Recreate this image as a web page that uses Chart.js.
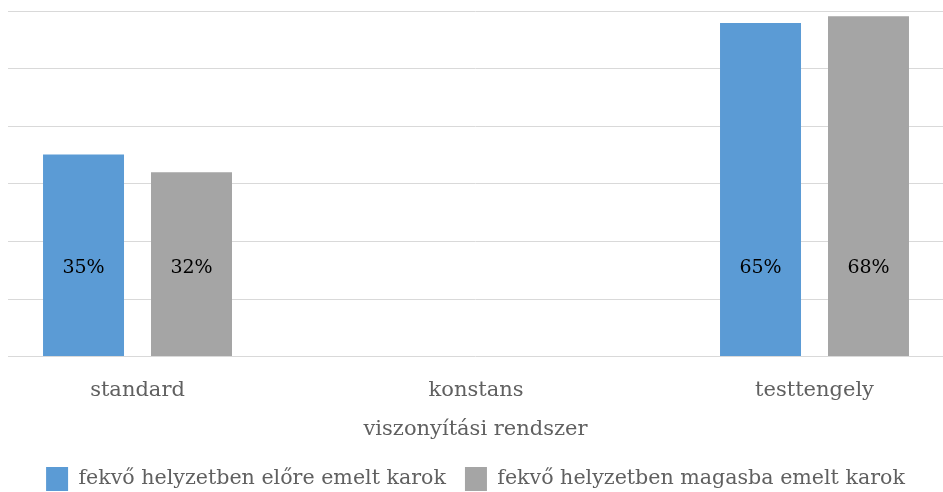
<!DOCTYPE html>
<html>
<head>
<meta charset="utf-8">
<script src="https://cdn.jsdelivr.net/npm/chart.js@4.4.1/dist/chart.umd.min.js"></script>
<style>
	html, body { margin: 0; padding: 0; background: #fff; overflow: hidden; }
	.wrapper { width: 943px; height: 492px; }
</style>
</head>
<body>
<div class="wrapper"><canvas id="chart" width="943" height="492"></canvas></div>
<script>
// categories on the x axis
const categories = ['standard', 'konstans', 'testtengely'];
// series names
const seriesNames = ['fekvő helyzetben előre emelt karok', 'fekvő helyzetben magasba emelt karok'];
// bar heights (axis units, gridline every 10)
const seriesA = [35.1, null, 57.9];
const seriesB = [32.0, null, 59.1];
// texts written on the bars
const labelsA = ['35%', '', '65%'];
const labelsB = ['32%', '', '68%'];
// colours of each series
const colors = ['#5b9bd5', '#a5a5a5'];
// y ticks
const yMin = 0;
const yMax = 60;
const yStep = 10;

const serif = "'DejaVu Serif', serif";

//turn an array of values into points on the linear x axis
const toPoints = (vals) => vals.map((v, i) => ({ x: i, y: v }));

//Plugin for writing the value texts inside the bars
const barText = {
	id: 'barText',
	afterDatasetsDraw(chart) {
		const ctx = chart.ctx;
		const texts = [labelsA, labelsB];
		const yPos = chart.scales.y.getPixelForValue(15.3);
		ctx.save();
		ctx.font = '19px ' + serif;
		ctx.fillStyle = '#000';
		ctx.textAlign = 'center';
		ctx.textBaseline = 'middle';
		chart.data.datasets.forEach((ds, d) => {
			chart.getDatasetMeta(d).data.forEach((bar, i) => {
				if (ds.data[i].y === null) return;
				ctx.fillText(texts[d][i], bar.x, yPos);
			});
		});
		ctx.restore();
	},
};

new Chart(document.getElementById('chart'), {
	type: 'bar',
	plugins: [barText],
	data: {
		datasets: [
			{ label: seriesNames[0], data: toPoints(seriesA), backgroundColor: colors[0] },
			{ label: seriesNames[1], data: toPoints(seriesB), backgroundColor: colors[1] },
		],
	},
	options: {
		responsive: false,
		animation: false,
		categoryPercentage: 0.638,
		barPercentage: 0.75,
		layout: { padding: { left: 8, right: 0, top: 11, bottom: -9 } },
		scales: {
			x: {
				type: 'linear',
				offset: false,
				min: -0.3826,
				max: 2.3796,
				afterBuildTicks: (axis) => {
					axis.ticks = categories.map((c, i) => ({ value: i }));
				},
				grid: { display: false, drawTicks: false },
				border: { display: false },
				ticks: {
					callback: (v) => categories[v],
					font: { family: serif, size: 21 },
					color: '#606060',
					padding: 21,
					maxRotation: 0,
				},
				title: {
					display: true,
					text: 'viszonyítási rendszer',
					font: { family: serif, size: 21 },
					color: '#606060',
					padding: { top: -7, bottom: 6 },
				},
			},
			y: {
				min: yMin,
				max: yMax,
				ticks: { display: false, stepSize: yStep },
				grid: { color: '#d9d9d9', lineWidth: 1, drawTicks: false },
				border: { display: false },
			},
		},
		plugins: {
			tooltip: { enabled: false },
			legend: {
				position: 'bottom',
				labels: {
					boxWidth: 22,
					boxHeight: 24,
					padding: 19,
					color: '#606060',
					font: { family: serif, size: 20.6 },
				},
			},
		},
	},
});
</script>
</body>
</html>
